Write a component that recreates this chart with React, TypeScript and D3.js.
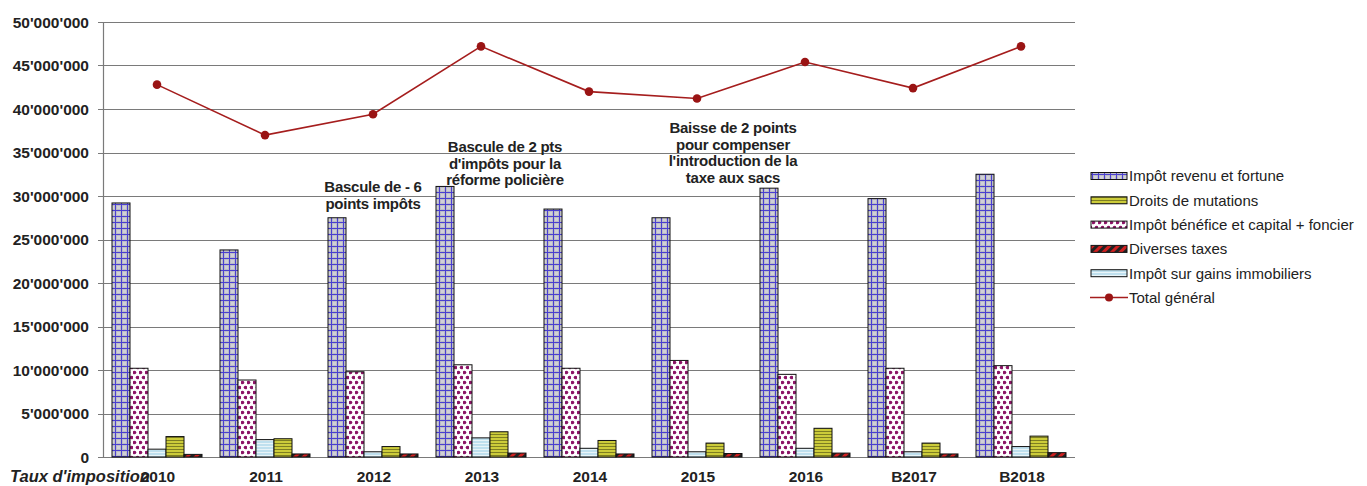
import React from "react";
import * as d3 from "d3";

const categories = ["2010", "2011", "2012", "2013", "2014", "2015", "2016", "B2017", "B2018"];
const impotRevenu = [29.2, 23.8, 27.5, 31.1, 28.5, 27.5, 30.9, 29.7, 32.5].map((v) => v * 1e6);
const impotBenefice = [10.2, 8.85, 9.8, 10.6, 10.2, 11.1, 9.5, 10.2, 10.5].map((v) => v * 1e6);
const gainsImmobiliers = [0.9, 2.0, 0.6, 2.2, 1.0, 0.6, 1.0, 0.6, 1.2].map((v) => v * 1e6);
const droitsMutations = [2.35, 2.1, 1.2, 2.9, 1.9, 1.6, 3.3, 1.6, 2.4].map((v) => v * 1e6);
const diversesTaxes = [0.3, 0.35, 0.35, 0.45, 0.35, 0.4, 0.45, 0.35, 0.5].map((v) => v * 1e6);
const totalGeneral = [42.8, 37.0, 39.4, 47.2, 42.0, 41.2, 45.4, 42.4, 47.2].map((v) => v * 1e6);
const yTicks = [0, 5e6, 10e6, 15e6, 20e6, 25e6, 30e6, 35e6, 40e6, 45e6, 50e6];

const barSeries = [
  { key: "revenu", values: impotRevenu, fill: "url(#pRevenu)" },
  { key: "benefice", values: impotBenefice, fill: "url(#pBenefice)" },
  { key: "gains", values: gainsImmobiliers, fill: "url(#pGains)" },
  { key: "mutations", values: droitsMutations, fill: "url(#pMutations)" },
  { key: "diverses", values: diversesTaxes, fill: "url(#pDiverses)" },
];

const legendItems = [
  { label: "Impôt revenu et fortune", fill: "url(#pRevenu)" },
  { label: "Droits de mutations", fill: "url(#pMutations)" },
  { label: "Impôt bénéfice et capital + foncier", fill: "url(#pBenefice)" },
  { label: "Diverses taxes", fill: "url(#pDiverses)" },
  { label: "Impôt sur gains immobiliers", fill: "url(#pGains)" },
  { label: "Total général", fill: null },
];

const annotations = [
  { cat: "2012", dx: 0, lines: ["Bascule de - 6", "points impôts"], top: 187 },
  { cat: "2013", dx: 24, lines: ["Bascule de 2 pts", "d'impôts pour la", "réforme policière"], top: 147 },
  { cat: "2015", dx: 36, lines: ["Baisse de 2 points", "pour compenser", "l'introduction de la", "taxe aux sacs"], top: 128 },
];

const fmt = (v: number) => {
  if (v === 0) return "0";
  const s = String(Math.round(v));
  return s.replace(/\B(?=(\d{3})+(?!\d))/g, "'");
};

export default function App() {
  const W = 1367, H = 486;
  const left = 103, right = 1075, top = 22, bottom = 457;
  const y = d3.scaleLinear().domain([0, 50e6]).range([bottom, top]);
  const x0 = d3.scaleBand<string>().domain(categories).range([left, right]).padding(0);
  const x1 = d3.scaleBand<string>().domain(barSeries.map((s) => s.key)).range([0, x0.bandwidth()]).paddingInner(0).paddingOuter(0.5);
  const line = d3.line<number>().x((_, i) => (x0(categories[i]) as number) + x0.bandwidth() / 2).y((d) => y(d));
  const font = "'Liberation Sans', Arial, sans-serif";

  return (
    <svg width={W} height={H} style={{ position: "absolute", left: 0, top: 0, background: "#fff" }} fontFamily={font}>
      <defs>
        <pattern id="pRevenu" patternUnits="userSpaceOnUse" width="6" height="6">
          <rect width="6" height="6" fill="#bcbcc6" />
          <rect x="2" y="2" width="3" height="3" fill="#d0d0d6" />
          <path d="M0,0.5H6M0.5,0V6" stroke="#4a3fd0" strokeWidth="1" />
        </pattern>
        <pattern id="pBenefice" patternUnits="userSpaceOnUse" width="6" height="10">
          <rect width="6" height="10" fill="#fff" />
          <circle cx="1.5" cy="2.5" r="1.8" fill="#8c1466" />
          <circle cx="4.5" cy="7.5" r="1.8" fill="#8c1466" />
        </pattern>
        <pattern id="pGains" patternUnits="userSpaceOnUse" width="4" height="3">
          <rect width="4" height="3" fill="#bfe0ee" />
          <path d="M0,2.5H4" stroke="#e8f4f8" strokeWidth="1" />
        </pattern>
        <pattern id="pMutations" patternUnits="userSpaceOnUse" width="4" height="3">
          <rect width="4" height="3" fill="#cccc3a" />
          <path d="M0,2.5H4" stroke="#7e7e22" strokeWidth="1" />
        </pattern>
        <pattern id="pDiverses" patternUnits="userSpaceOnUse" width="6" height="6" patternTransform="rotate(45)">
          <rect width="6" height="6" fill="#d02020" />
          <rect width="3" height="6" fill="#222" />
        </pattern>
      </defs>

      {/* gridlines */}
      {yTicks.map((t) => (
        <g key={t}>
          <line x1={left - 5} x2={right} y1={Math.round(y(t)) + 0.5} y2={Math.round(y(t)) + 0.5} stroke="#7a7a7a" strokeWidth={1.2} />
          <text x={89} y={y(t)} dy="0.36em" textAnchor="end" fontSize={15.5} fontWeight="bold" fill="#222">
            {fmt(t)}
          </text>
        </g>
      ))}
      <line x1={left + 0.5} x2={left + 0.5} y1={top} y2={bottom} stroke="#7a7a7a" strokeWidth={1.2} />

      {/* bars */}
      {categories.map((c, i) => (
        <g key={c} transform={`translate(${x0(c)},0)`}>
          {barSeries.map((s) => (
            <rect
              key={s.key}
              x={x1(s.key)}
              y={y(s.values[i])}
              width={x1.bandwidth()}
              height={bottom - y(s.values[i])}
              fill={s.fill}
              stroke="#111"
              strokeWidth={1}
            />
          ))}
        </g>
      ))}

      {/* total line */}
      <path d={line(totalGeneral) || ""} fill="none" stroke="#a51d1d" strokeWidth={1.6} />
      {totalGeneral.map((v, i) => (
        <circle key={i} cx={(x0(categories[i]) as number) + x0.bandwidth() / 2} cy={y(v)} r={4.3} fill="#9a1414" />
      ))}

      {/* x labels */}
      {categories.map((c) => (
        <text key={c} x={(x0(c) as number) + x0.bandwidth() / 2 + 1} y={482} textAnchor="middle" fontSize={15.5} fontWeight="bold" fill="#222">
          {c}
        </text>
      ))}
      <text x={10} y={482} fontSize={16.5} fontWeight="bold" fontStyle="italic" fill="#222">
        Taux d'imposition
      </text>

      {/* annotations */}
      {annotations.map((a) => (
        <text key={a.cat} textAnchor="middle" fontSize={15} fontWeight="bold" fill="#222" letterSpacing={-0.25}>
          {a.lines.map((l, j) => (
            <tspan key={j} x={(x0(a.cat) as number) + x0.bandwidth() / 2 + a.dx} y={a.top + j * 16.5} dy="0.35em">
              {l}
            </tspan>
          ))}
        </text>
      ))}

      {/* legend */}
      {legendItems.map((it, i) => {
        const ly = 176 + i * 24.3;
        return (
          <g key={it.label}>
            {it.fill ? (
              <rect x={1091} y={ly - 3.5} width={36} height={7} fill={it.fill} stroke="#111" strokeWidth={1} />
            ) : (
              <g>
                <line x1={1090} x2={1128} y1={ly} y2={ly} stroke="#a51d1d" strokeWidth={1.6} />
                <circle cx={1109} cy={ly} r={4} fill="#9a1414" />
              </g>
            )}
            <text x={1129} y={ly} dy="0.36em" fontSize={15} fill="#222">
              {it.label}
            </text>
          </g>
        );
      })}
    </svg>
  );
}
